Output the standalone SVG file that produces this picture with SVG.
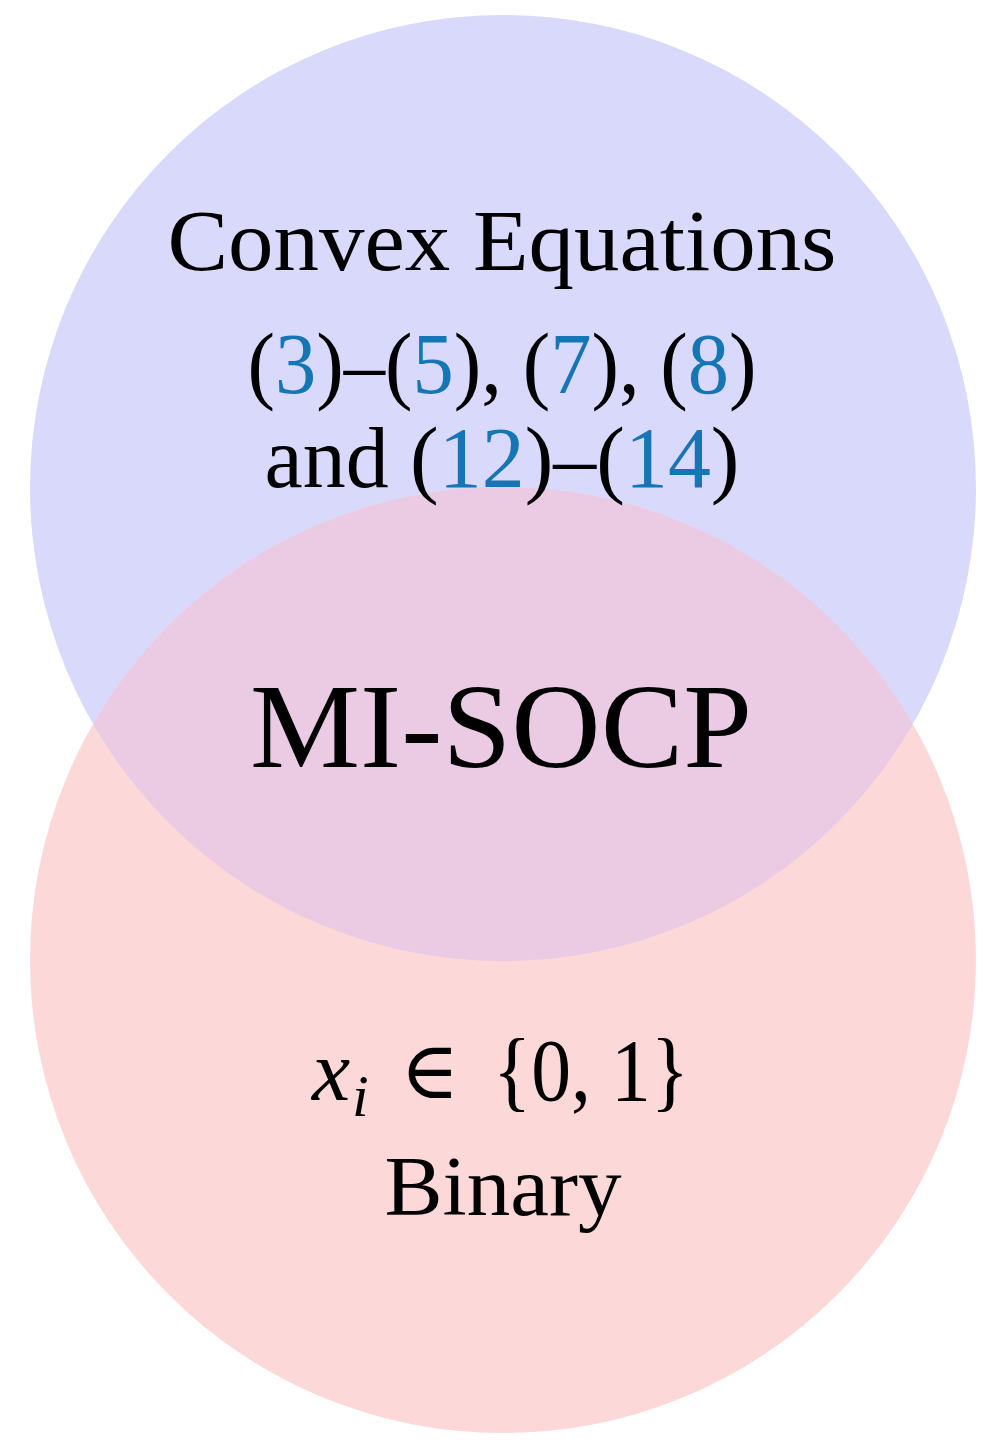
<svg xmlns="http://www.w3.org/2000/svg" width="999" height="1450" viewBox="0 0 999 1450">
<style>
.t{font-family:"Liberation Serif","DejaVu Serif",serif;fill:#000;text-anchor:middle}
.s{font-family:"Liberation Serif","DejaVu Serif",serif;fill:#000;text-anchor:start}
.n{fill:#1576b5}
.m{font-style:italic}
</style>
<defs>
<clipPath id="clipBlue"><circle cx="503" cy="488" r="473"/></clipPath>
</defs>
<rect width="999" height="1450" fill="#ffffff"/>
<g id="convex">
<circle cx="503" cy="488" r="473" fill="#d9d9fc"/>
</g>
<g id="binary">
<circle cx="503" cy="960" r="473" fill="#fdd8d9"/>
</g>
<g id="overlap">
<circle cx="503" cy="960" r="473" fill="#ebcae3" clip-path="url(#clipBlue)"/>
</g>
<g id="convex-labels">
<text class="t" x="502" y="270" font-size="86" textLength="669" lengthAdjust="spacingAndGlyphs">Convex Equations</text>
<text class="t" x="502" y="393" font-size="86" textLength="509" lengthAdjust="spacingAndGlyphs">(<tspan class="n">3</tspan>)–(<tspan class="n">5</tspan>), (<tspan class="n">7</tspan>), (<tspan class="n">8</tspan>)</text>
<text class="t" x="502" y="487" font-size="86" textLength="475" lengthAdjust="spacingAndGlyphs">and (<tspan class="n">12</tspan>)–(<tspan class="n">14</tspan>)</text>
</g>
<g id="misocp">
<text class="t" x="501" y="767" font-size="120" textLength="502" lengthAdjust="spacingAndGlyphs">MI-SOCP</text>
</g>
<g id="binary-labels">
<text class="s m" x="312" y="1100" font-size="86">x</text>
<text class="s m" x="352" y="1116" font-size="60">i</text>
<text class="s" x="400" y="1098" font-size="80">∈</text>
<text class="s" x="493" y="1100" font-size="88" textLength="196" lengthAdjust="spacingAndGlyphs">{0, 1}</text>
<text class="t" x="503" y="1215" font-size="84" textLength="237" lengthAdjust="spacingAndGlyphs">Binary</text>
</g>
</svg>
